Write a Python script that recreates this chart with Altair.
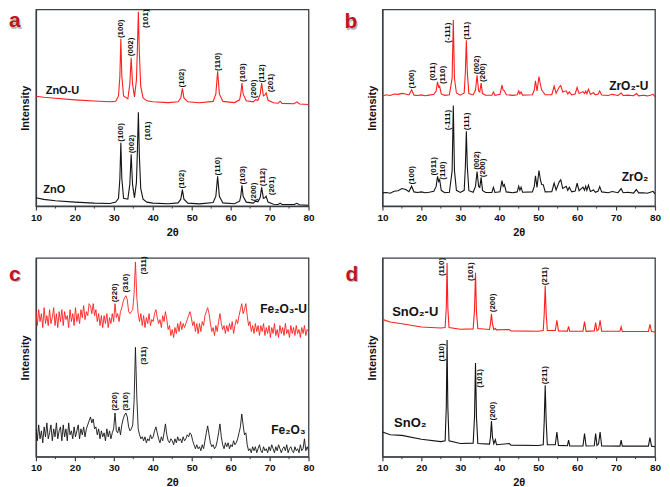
import altair as alt
import pandas as pd

FONT = "Liberation Sans"
RED = "#ff1f1f"
BLACK = "#141414"
AXIS = "#3a3f44"
LETTER = "#c0141f"

x_ticks = [10, 20, 30, 40, 50, 60, 70, 80]
x_minor = [15, 25, 35, 45, 55, 65, 75]

# ---------------- panel a : ZnO ----------------
zno_x = [10, 12, 15, 20, 25, 29, 30.5, 31.2, 31.55, 31.8, 32.05, 32.5, 33.6, 34.1, 34.45, 34.8,
         35.3, 35.8, 36.05, 36.3, 36.55, 36.9, 37.5, 38.5, 40, 44, 46.5, 47.2, 47.6, 48.0, 49,
         52, 55.5, 56.2, 56.65, 57.1, 58, 61, 62.3, 62.6, 62.9, 63.2, 64, 65.8, 66.4, 67,
         67.6, 67.95, 68.4, 68.8, 69.1, 69.6, 71, 72.2, 72.7, 73.2, 76.3, 77.0, 77.7, 80]
zno_u_y = [55.8, 55.3, 54.8, 54.0, 53.4, 53.0, 53.3, 56, 66, 85.1, 66, 56, 54.5, 62, 75.4, 62,
           55.5, 64, 80, 98.8, 78, 61, 55, 53.5, 53.0, 52.6, 53, 55, 59.8, 55, 53,
           52.5, 53.2, 57, 68.5, 57, 53.2, 52.6, 54, 57, 62.5, 57, 53.5, 53, 54.1, 53.8,
           57, 62.5, 56, 56.5, 57.5, 53.8, 52.5, 52.3, 53.3, 52.2, 52, 53.0, 51.9, 51.6]
zno_y = [4.2, 3.4, 2.7, 2.0, 1.5, 1.3, 2, 4, 14, 32.2, 14, 4, 3.5, 11, 26.3, 11,
         4.2, 12, 28, 47.7, 26, 9, 3.5, 2, 1.5, 1.2, 1.6, 3.5, 8.4, 3.5, 1.5,
         1.1, 1.8, 5, 15.1, 5, 1.6, 1.2, 2.5, 5, 10.6, 5, 2, 1.5, 2.5, 2.2,
         4.5, 9.5, 4, 4.2, 5.0, 2, 0.9, 0.8, 1.5, 0.8, 0.8, 1.4, 0.7, 0.4]

a_hkl = ["(100)", "(002)", "(101)", "(102)", "(110)", "(103)", "(200)", "(112)", "(201)"]
a_hkl_x_red = [31.9, 34.5, 38.3, 47.6, 56.8, 63.1, 66.1, 68.0, 70.3]
a_hkl_y_red = [85.4, 76.2, 90.5, 60.3, 68.7, 63.1, 54.8, 62.8, 57.8]
a_hkl_x_blk = [31.9, 34.7, 38.7, 47.6, 56.8, 63.1, 66.1, 68.2, 70.5]
a_hkl_y_blk = [32.7, 26.8, 33.5, 8.9, 15.6, 10.9, 2.5, 10.1, 5.5]
a_names = ["ZnO-U", "ZnO"]
a_names_x = [12.5, 11.9]
a_names_y = [58.6, 8.4]

# ---------------- panel b : ZrO2 ----------------
zro_x = [10, 11, 12, 13, 14, 15, 16, 16.8, 17.5, 18.1, 19, 20, 21, 22, 23.2, 23.8, 24.15, 24.45,
         24.7, 25.1, 26, 27.2, 27.9, 28.2, 28.5, 29.0, 30, 31.0, 31.3, 31.55, 31.8, 32.2, 33.3,
         33.9, 34.3, 34.7, 35.0, 35.35, 35.7, 36.5, 38.1, 38.5, 38.9, 40.2, 40.7, 41.0, 41.3,
         41.8, 43.5, 44.6, 45.0, 45.3, 45.6, 46.0, 48.5, 49.0, 49.3, 49.7, 50.2, 50.6, 50.9,
         51.3, 51.8, 53.5, 54.1, 54.6, 55.4, 55.8, 56.3, 57.2, 57.6, 58.0, 58.6, 59.5, 60.0,
         60.5, 61.5, 61.9, 62.2, 62.5, 62.9, 63.4, 64.2, 64.7, 65.4, 65.8, 66.3, 68, 69, 70.5,
         71.3, 71.8, 73, 74.5, 75.2, 75.8, 77, 78, 79.0, 79.5, 80]
zro_u_y = [56.0, 56.6, 56.2, 57.0, 56.8, 57.3, 57.0, 56.5, 59.1, 56.4, 56.2, 56.5, 56.1, 56.4,
           56.8, 58.5, 63.1, 60.5, 61, 57, 56.3, 56.6, 65, 94.6, 65, 57.5, 56.4, 57.5, 68, 84.3,
           68, 57.2, 56.5, 59, 66.5, 58.5, 58, 62.5, 57.2, 56.3, 56.3, 58.0, 56.3, 56.8, 61.5,
           59, 58.7, 56.6, 56.3, 56.6, 58.6, 57, 58.0, 56.4, 56.6, 59, 63.7, 58.5, 65.8, 61.5,
           59, 58, 56.6, 56.6, 61.0, 57.4, 60.5, 61.3, 58, 58.6, 57.0, 58.0, 56.5, 57, 60.3,
           57.2, 58.2, 57.2, 58.5, 57.1, 59.3, 56.8, 57.6, 56.5, 57, 58.5, 56.5, 56.2, 56.8,
           56.2, 57.5, 56.2, 56.4, 56.1, 57.2, 56, 56.3, 56.0, 56.5, 56.8, 55.6]
zro_y = [6.7, 6.9, 6.5, 7.5, 7.8, 8.9, 8.4, 7.3, 10.1, 7.2, 6.9, 7.2, 6.8, 7.0,
         7.5, 10, 15.1, 12.5, 13.4, 8, 6.8, 7.0, 18, 51.1, 18, 8, 6.9, 8, 20, 38.0,
         20, 7.8, 7, 10, 17.6, 10, 9.5, 14.6, 8, 6.9, 6.9, 9.5, 6.9, 7.3, 12.9,
         10, 10.9, 7.2, 6.8, 7.2, 10.1, 8, 9.6, 7, 7.2, 10, 15.4, 9.5, 18.1, 13,
         11, 10.9, 7.2, 7.3, 11.7, 8.2, 12.3, 13.4, 9, 10.1, 8.0, 9.6, 7.2, 7.6, 11.6,
         7.8, 9.6, 8, 10.1, 8, 10.6, 7.4, 8.2, 7.0, 7.6, 9.9, 7.2, 6.8, 7.4,
         6.8, 8.9, 6.8, 7.0, 6.6, 8.4, 6.7, 6.8, 6.5, 7.2, 7.5, 6.2]

b_hkl = ["(100)", "(011)", "(110)", "(-111)", "(111)", "(002)", "(200)"]
b_hkl_x_red = [17.7, 23.1, 25.6, 26.8, 31.8, 34.3, 35.9]
b_hkl_y_red = [59.8, 63.7, 62.0, 82.9, 84.6, 67.0, 63.1]
b_hkl_x_blk = [17.7, 23.3, 25.6, 26.8, 31.8, 34.3, 35.9]
b_hkl_y_blk = [10.9, 15.6, 13.4, 38.5, 38.5, 18.4, 14.7]
b_names = ["ZrO\u2082-U", "ZrO\u2082"]
b_names_x = [78.3, 78.3]
b_names_y = [61.1, 14.6]

# ---------------- panel c : Fe2O3 (sampled every 0.35 deg from 10) ----------------
fe_u_y = [73, 66, 74, 68, 72, 65, 75, 67, 71, 66,
          74, 67, 70, 75, 66, 72, 65, 73, 68, 74,
          66, 73, 69, 71, 65, 74, 68, 72, 66, 75,
          68, 72, 67, 74, 70, 76, 69, 73, 71, 77,
          76, 72, 77, 71, 74, 68, 72, 66, 71, 65,
          71, 67, 72, 65, 70, 67, 72, 68, 77, 70,
          72, 68, 73, 75, 78, 80, 81, 79, 73, 72,
          73, 74, 82, 98, 80, 72, 68, 72, 66, 71,
          65, 70, 67, 72, 66, 69, 68, 72, 74, 70,
          67, 69, 65, 71, 68, 73, 69, 64, 66, 61,
          64, 60, 65, 62, 67, 63, 68, 64, 67, 65,
          67, 69, 71, 73, 70, 66, 68, 63, 67, 62,
          67, 63, 68, 66, 71, 73, 75, 72, 67, 63,
          65, 61, 66, 63, 68, 72, 67, 64, 66, 62,
          66, 63, 67, 64, 68, 62, 66, 69, 67, 71,
          74, 77, 72, 74, 77, 71, 66, 68, 63, 66,
          62, 67, 63, 66, 61, 66, 63, 67, 61, 65,
          62, 66, 60, 65, 62, 67, 61, 64, 60, 66,
          62, 65, 61, 67, 62, 64, 60, 66, 62, 65,
          61, 66, 62, 64, 60, 65, 62, 66, 61, 64,
          63]
fe_y = [14, 8, 16, 9, 13, 7, 15, 10, 17, 9,
        12, 16, 8, 14, 10, 17, 9, 13, 15, 8,
        16, 10, 14, 8, 17, 11, 13, 9, 15, 10,
        13, 16, 9, 14, 11, 15, 10, 14, 16, 18,
        20, 17, 19, 14, 15, 11, 14, 9, 13, 10,
        12, 8, 14, 10, 13, 9, 12, 14, 22, 13,
        12, 15, 11, 16, 19, 21, 22, 20, 15, 13,
        14, 16, 28, 55, 30, 14, 11, 9, 10, 8,
        10, 7, 9, 8, 11, 9, 10, 13, 15, 12,
        9, 7, 10, 8, 12, 16.5, 11, 8, 7, 9,
        8, 6, 9, 7, 10, 8, 9, 7, 10, 8,
        9, 11, 10, 12, 11, 8, 6, 4, 6, 4,
        5, 3, 6, 4, 8, 12, 15.5, 11, 7, 5,
        6, 4, 5, 8, 12, 16.5, 10, 6, 4, 7,
        5, 7, 4, 6, 5, 8, 6, 7, 9, 12,
        15, 21.5, 16, 11, 12, 6, 3, 4, 2, 5,
        3, 5, 2, 4, 6, 3, 2, 5, 3, 4,
        2, 5, 3, 6, 4, 2, 5, 3, 6, 4,
        2, 4, 5, 3, 6, 2, 4, 5, 3, 2,
        5, 3, 4, 2, 6, 3, 4, 9, 3, 5,
        3]
fe_x = [round(10 + 0.35 * i, 2) for i in range(len(fe_y))]

c_hkl = ["(220)", "(310)", "(311)"]
c_hkl_x_red = [30.2, 33.2, 37.8]
c_hkl_y_red = [77.7, 82.6, 91.7]
c_hkl_x_blk = [30.2, 33.0, 37.8]
c_hkl_y_blk = [23.1, 23.1, 46.3]
c_names = ["Fe\u2082O\u2083-U", "Fe\u2082O\u2083"]
c_names_x = [79.6, 79.2]
c_names_y = [74.4, 13.2]

# ---------------- panel d : SnO2 ----------------
sno_x = [10, 12, 15, 20, 25, 26.1, 26.4, 26.6, 26.8, 27.1, 30, 33.3, 33.65, 33.9, 34.15, 34.5,
         37.5, 37.75, 38.0, 38.25, 38.6, 39.0, 39.3, 42.6, 43, 50, 51.3, 51.55, 51.8, 52.05,
         52.35, 54.4, 54.8, 55.2, 57.5, 57.8, 58.1, 61.5, 61.9, 62.3, 64.4, 64.75, 65.1, 65.5,
         65.9, 66.3, 71.0, 71.3, 71.6, 78.3, 78.7, 79.1, 80]
sno_u_y = [69.1, 67.8, 66.9, 65.3, 64.8, 65, 75, 97.5, 75, 65, 64.1, 64.3, 74, 92.6, 73, 64.5,
           64, 67, 71.9, 67, 64, 64.5, 63.8, 64, 63.3, 63.1, 63.5, 72, 86, 72,
           63.5, 63.5, 68.6, 63.3, 63.2, 65.6, 63.1, 63.2, 68.0, 63.1, 63.3, 67.5, 63.4, 64,
           68.6, 63.2, 63.1, 65.3, 63.0, 63.0, 66.6, 63.0, 62.8]
sno_y = [12.4, 11.0, 10.7, 8.8, 7.6, 8, 25, 58.7, 25, 8, 6.6, 6.8, 20, 47.1, 20, 6.6,
         6.3, 10, 17.9, 10, 6.5, 8.6, 6, 6.6, 5.8, 5.6, 6, 18, 36, 18,
         6, 6, 12.4, 5.7, 5.5, 8.3, 5.4, 5.4, 11.6, 5.4, 5.5, 11.6, 5.6, 6.5,
         12.4, 5.4, 5.3, 8.3, 5.3, 5.3, 9.6, 5.3, 5.0]

d_hkl = ["(110)", "(101)", "(200)", "(211)"]
d_hkl_x_red = [25.2, 32.7, 38.3, 51.7]
d_hkl_y_red = [90.9, 88.4, 72.7, 86.3]
d_hkl_x_blk = [25.2, 35.0, 38.3, 51.7]
d_hkl_y_blk = [47.9, 34.7, 18.2, 36.5]
d_names = ["SnO\u2082-U", "SnO\u2082"]
d_names_x = [12.5, 13.0]
d_names_y = [72.7, 16.9]

W = 273


def panel(x_red, y_red, x_blk, y_blk, hkl, hxr, hyr, hxb, hyb,
          names, nx, ny, nalign, nsize, letter, ldx, ldy, h, lw=1.1):
    xs = alt.X("x:Q", scale=alt.Scale(domain=[9.9999, 80.0001], nice=False, zero=False),
               axis=alt.Axis(values=x_ticks, tickCount=20, title="2θ", format="d", tickSize=4,
                             labelPadding=2, titlePadding=4, labelFlush=False,
                             labelOverlap=False, labelBound=False))
    ys = alt.Y("y:Q", scale=alt.Scale(domain=[0, 100], nice=False, zero=False),
               axis=alt.Axis(title="Intensity", labels=False, ticks=False, titlePadding=5))
    red = alt.Chart(pd.DataFrame({"x": x_red, "y": y_red})).mark_line(
        color=RED, strokeWidth=lw, clip=True).encode(x=xs, y=ys)
    blk = alt.Chart(pd.DataFrame({"x": x_blk, "y": y_blk})).mark_line(
        color=BLACK, strokeWidth=lw, clip=True).encode(x="x:Q", y="y:Q")
    hdf = pd.DataFrame({"x": hxr + hxb, "y": hyr + hyb, "t": hkl + hkl})
    hk = alt.Chart(hdf).mark_text(angle=270, align="left", baseline="middle", font=FONT,
                                  fontSize=8, fontWeight="bold", color="#111").encode(
        x="x:Q", y="y:Q", text="t:N")
    ndf = pd.DataFrame({"x": nx, "y": ny, "t": names})
    nm = alt.Chart(ndf).mark_text(align=nalign, baseline="middle", font=FONT,
                                  fontSize=nsize, fontWeight="bold", color="#111").encode(
        x="x:Q", y="y:Q", text="t:N")
    mdf = pd.DataFrame({"x": x_minor})
    minor = alt.Chart(mdf).mark_rule(color=AXIS, strokeWidth=1).encode(
        x="x:Q", y=alt.value(h), y2=alt.value(h + 2.5))
    ldf = pd.DataFrame({"t": [letter]})
    shadow = alt.Chart(ldf).mark_text(align="left", baseline="alphabetic", font=FONT,
                                      fontSize=21, fontWeight="bold", color="#b8b8b8").encode(
        x=alt.value(ldx + 1), y=alt.value(ldy + 1.5), text="t:N")
    let = alt.Chart(ldf).mark_text(align="left", baseline="alphabetic", font=FONT,
                                   fontSize=21, fontWeight="bold", color=LETTER).encode(
        x=alt.value(ldx), y=alt.value(ldy), text="t:N")
    return alt.layer(red, blk, minor, hk, nm, shadow, let).properties(width=W, height=h)


pa = panel(zno_x, zno_u_y, zno_x, zno_y, a_hkl, a_hkl_x_red, a_hkl_y_red, a_hkl_x_blk,
           a_hkl_y_blk, a_names, a_names_x, a_names_y, "left", 11, "a", -27, 18, 197)
pb = panel(zro_x, zro_u_y, zro_x, zro_y, b_hkl, b_hkl_x_red, b_hkl_y_red, b_hkl_x_blk,
           b_hkl_y_blk, b_names, b_names_x, b_names_y, "right", 12, "b", -38, 19, 197)
pc = panel(fe_x, fe_u_y, fe_x, fe_y, c_hkl, c_hkl_x_red, c_hkl_y_red, c_hkl_x_blk,
           c_hkl_y_blk, c_names, c_names_x, c_names_y, "right", 12, "c", -27, 23, 199, lw=0.9)
pd_ = panel(sno_x, sno_u_y, sno_x, sno_y, d_hkl, d_hkl_x_red, d_hkl_y_red, d_hkl_x_blk,
            d_hkl_y_blk, d_names, d_names_x, d_names_y, "left", 13, "d", -37, 23, 199)

chart = alt.concat(pa, pb, pc, pd_, columns=2, spacing={"row": 52, "column": 74},
                   bounds="flush").properties(padding=0)
chart = chart.configure_view(stroke=AXIS, strokeWidth=1.3).configure_axis(
    domainColor=AXIS, domainWidth=1.3, tickColor=AXIS, tickWidth=1.2, grid=False,
    labelFont=FONT, labelFontWeight="bold", labelFontSize=10, labelColor="#111",
    titleFont=FONT, titleFontWeight="bold", titleFontSize=11, titleColor="#111")

chart.save("out.html", embed_options={"renderer": "svg", "actions": False})
